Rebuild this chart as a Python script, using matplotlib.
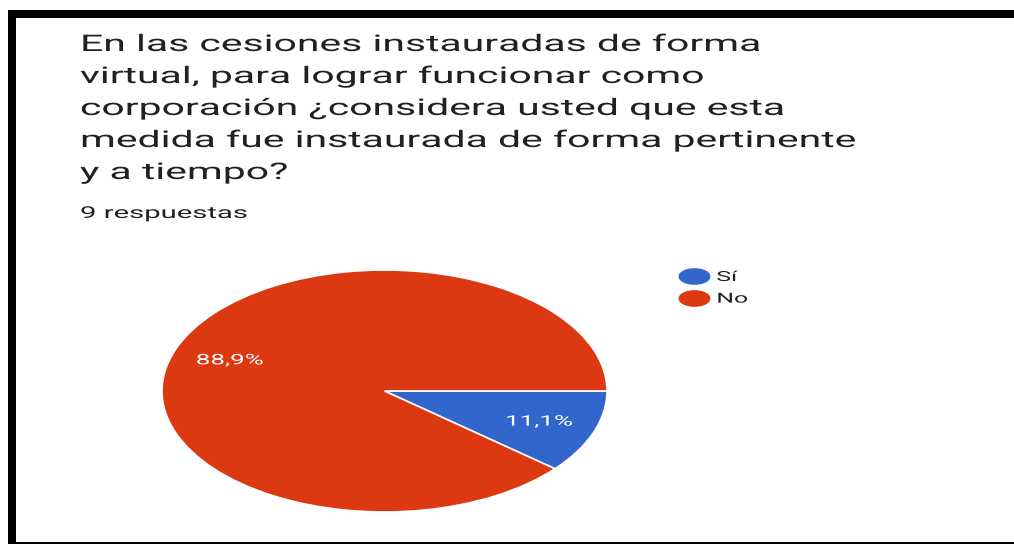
import math
import matplotlib
matplotlib.use("Agg")
import matplotlib.pyplot as plt
from matplotlib.patches import Rectangle
from matplotlib.lines import Line2D
from matplotlib.path import Path
from matplotlib.transforms import Affine2D
from matplotlib.patheffects import AbstractPathEffect

# Data
categories = ["Sí", "No"]
values = [1, 8]
pct_labels = ["11,1%", "88,9%"]
colors = ["#3366CC", "#DC3912"]
title_lines = [
    "En las cesiones instauradas de forma",
    "virtual, para lograr funcionar como",
    "corporación ¿considera usted que esta",
    "medida fue instaurada de forma pertinente",
    "y a tiempo?",
]
subtitle = "9 respuestas"

FONT = "Roboto"
TXT = "#202124"


class StretchX(AbstractPathEffect):
    """Stretch text glyphs horizontally about the text anchor."""

    def __init__(self, sx, text):
        super().__init__()
        self.sx = sx
        self.text = text

    def draw_path(self, renderer, gc, tpath, affine, rgbFace=None):
        x0 = self.text.get_transform().transform(self.text.get_position())[0]
        new = affine + Affine2D().translate(-x0, 0).scale(self.sx[0], 1).translate(x0, 0)
        renderer.draw_path(gc, tpath, new, rgbFace)


W, H = 1014, 544
fig = plt.figure(figsize=(W / 100, H / 100), dpi=100)
fig.patch.set_facecolor("white")

# Borders (black frame)
fig.patches.append(Rectangle((8 / W, (H - 18) / H), 1 - 8 / W, 8 / H, transform=fig.transFigure,
                             facecolor="black", edgecolor="none"))
fig.patches.append(Rectangle((8 / W, 0), 8 / W, (H - 10) / H, transform=fig.transFigure,
                             facecolor="black", edgecolor="none"))
fig.patches.append(Rectangle((8 / W, 0), 1 - 8 / W, 2.5 / H, transform=fig.transFigure,
                             facecolor="black", edgecolor="none"))

stretch = [1.0]
stretched = []

# Title
baselines = [51, 83, 115, 147, 179]
title_texts = []
for line, yb in zip(title_lines, baselines):
    t = fig.text(80 / W, 1 - yb / H, line, fontsize=16.5, color=TXT,
                 family=FONT, va="baseline", ha="left")
    title_texts.append(t)
    stretched.append(t)
sub = fig.text(80 / W, 1 - 218 / H, subtitle, fontsize=11.8, color=TXT,
               family=FONT, va="baseline", ha="left")
stretched.append(sub)

# Pie (elliptical, as in the stretched reference)
ax = fig.add_axes([162 / W, (H - 512) / H, 445 / W, 242 / H])
wedges, texts, autotexts = ax.pie(
    values, colors=colors, startangle=0, counterclock=False,
    labels=None, autopct=lambda p: "", pctdistance=0.74,
    wedgeprops=dict(edgecolor="white", linewidth=1.2),
)
for at, lab in zip(autotexts, pct_labels):
    at.set_text(lab)
    at.set_color("white")
    at.set_fontsize(10.5)
    at.set_family(FONT)
    stretched.append(at)
ax.set_aspect("auto")
ax.set_xlim(-1, 1)
ax.set_ylim(-1, 1)
ax.axis("off")

# Legend with elliptical markers
theta = [i * math.pi * 2 / 40 for i in range(41)]
ell = Path([(2 * math.cos(a), math.sin(a)) for a in theta], closed=True)
handles = [Line2D([0], [0], marker=ell, linestyle="none", markersize=22,
                  markerfacecolor=c, markeredgecolor=c) for c in colors]
leg = fig.legend(handles, categories, loc="upper left",
                 bbox_to_anchor=(683 / W, 1 - 270 / H), frameon=False,
                 prop=dict(family=FONT, size=10), handletextpad=0.8,
                 labelspacing=0.55, borderaxespad=0, borderpad=0,
                 handlelength=1.6)
for t in leg.get_texts():
    t.set_color(TXT)
    stretched.append(t)

# Determine horizontal stretch so that the longest title line matches reference width
fig.canvas.draw()
r = fig.canvas.get_renderer()
w = title_texts[3].get_window_extent(r).width
stretch[0] = 775.0 / w

for t in stretched:
    t.set_path_effects([StretchX(stretch, t)])

fig.savefig("out.png", dpi=100, facecolor="white")
